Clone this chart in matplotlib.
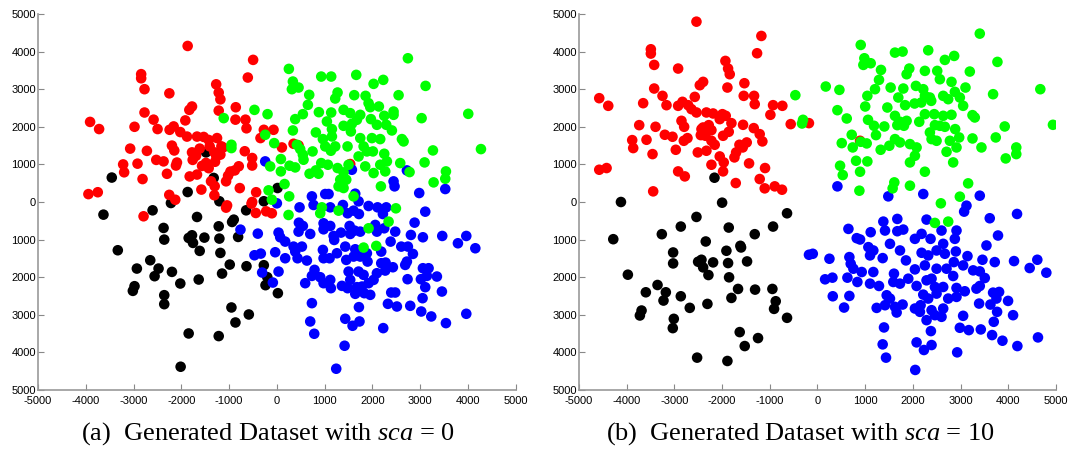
import numpy as np
import matplotlib
matplotlib.use("Agg")
import matplotlib.pyplot as plt
from matplotlib.ticker import FuncFormatter

# (x, y) points, one list per cluster
a_red = [(-1867, 4150), (-497, 3780), (-608, 3310), (-2840, 3400), (-2840, 3290), (-2770, 3000),
         (-2250, 2890), (-1270, 3130), (-1217, 2910), (-1182, 2730), (-1776, 2540), (-1832, 2450),
         (-860, 2520), (-1217, 2430), (-2770, 2380), (-3909, 2130), (-3720, 1940), (-2979, 2000),
         (-2580, 2190), (-2497, 1940), (-2245, 1920), (-2160, 2010), (-1916, 2170), (-2021, 1860),
         (-1881, 1740), (-1671, 1740), (-1531, 1730), (-1427, 1650), (-1252, 1700), (-1161, 1480),
         (-867, 2190), (-657, 2190), (-636, 1960), (-273, 1920), (-343, 1700), (-3070, 1420),
         (-2720, 1360), (-2196, 1500), (-2147, 1370), (-2524, 1120), (-2371, 1080), (-2091, 1050),
         (-2112, 970), (-2300, 750), (-3217, 1000), (-3196, 790), (-2916, 1020), (-2811, 610),
         (-1776, 1320), (-1615, 1420), (-1692, 1230), (-1762, 1120), (-1566, 960), (-1483, 1040),
         (-1427, 900), (-1406, 1480), (-1308, 1320), (-1266, 1210), (-1182, 1260), (-1294, 1070),
         (-1378, 550), (-1301, 420), (-1308, 180), (-1825, 680), (-1671, 730), (-1580, 330),
         (-1063, 550), (-1021, 700), (-972, 810), (-881, 840), (-797, 950), (-672, 1350),
         (-517, 1170), (-517, 970), (-776, 370), (-434, 260), (-517, 0), (-3944, 210),
         (-3748, 260), (-2252, 190), (-2126, 60), (-1042, -90), (-1126, 1450), (-2790, -380),
         (-1063, -150), (-531, -44), (-441, -292), (-224, -248), (-70, 1920), (105, 1451),
         (349, 1549), (454, 1504), (1535, 1009), (-105, -300)]

a_black = [(-3455, 650), (-1867, 265), (-1322, 640), (-1483, 1320), (-1203, 20), (-273, 20),
           (-3629, -336), (-2601, -221), (-2217, -27), (-2371, -690), (-2357, -1000), (-1671, -398),
           (-1776, -885), (-1846, -956), (-1755, -1088), (-1517, -947), (-1217, -646), (-1203, -973),
           (-937, -531), (-902, -469), (-643, -221), (-811, -929), (-1615, -1300), (-1182, -1354),
           (-986, -1664), (-636, -1708), (-1147, -1903), (-3329, -1283), (-2930, -1770), (-2650, -1549),
           (-2476, -1770), (-2559, -1973), (-2196, -1858), (-2021, -2168), (-1636, -2062), (-2979, -2239),
           (-3014, -2363), (-2357, -2478), (-2357, -2717), (-951, -2805), (-587, -2991), (-867, -3204),
           (-1846, -3496), (-1217, -3566), (-2014, -4381), (-273, -1681), (-238, -2212), (-200, -2000),
           (14, 372), (21, -2425)]

a_blue = [(-762, -735), (-399, -841), (-469, -1416), (-336, -1372), (-308, -1876), (-244, 1080),
          (1570, 858), (2721, 840), (2442, 549), (2463, 416), (2979, 239), (3524, 345), (1012, 212),
          (1082, 212), (733, 150), (1640, 221), (1710, 18), (0, -35), (475, -142), (768, -80),
          (1117, -142), (1382, -80), (1605, -230), (1480, -300), (1717, -320), (1919, -106),
          (2107, -142), (2289, -142), (2219, -320), (3105, -257), (461, -550), (544, -637),
          (454, -788), (698, -850), (977, -566), (1117, -637), (977, -726), (1187, -903),
          (1341, -814), (1522, -637), (1626, -761), (1745, -788), (1535, -850), (2093, -788),
          (2059, -610), (2247, -699), (2477, -788), (2882, -549), (2805, -876), (3056, -938),
          (3461, -903), (3789, -1097), (3964, -903), (4153, -1230), (35, -814), (70, -938),
          (174, -1053), (-35, -1336), (174, -1496), (384, -1319), (524, -1186), (349, -1186),
          (433, -1496), (628, -1557), (963, -1274), (977, -1496), (1103, -1496), (1257, -1363),
          (1200, -1009), (1431, -1186), (1640, -1257), (1452, -1540), (1605, -1451), (1745, -1451),
          (1884, -1363), (1898, -1584), (2184, -1319), (2380, -1053), (2603, -1186), (2742, -1186),
          (2847, -1380), (2184, -1628), (2275, -1611), (2428, -1735), (2268, -1823), (2093, -1894),
          (2024, -2071), (2686, -1673), (2721, -1584), (3056, -1761), (3175, -1761), (3014, -2053),
          (3140, -1965), (3349, -1982), (2735, -2053), (3105, -2265), (3454, -2381), (3049, -2558),
          (2393, -2407), (2477, -2407), (2324, -2708), (2512, -2779), (2791, -2761), (3021, -2912),
          (3231, -3044), (3538, -3221), (3964, -2973), (788, -1805), (733, -1965), (907, -2000),
          (977, -2159), (1117, -2071), (1130, -2292), (593, -2159), (1361, -2230), (1480, -2292),
          (1535, -2071), (1640, -2442), (1675, -2265), (1780, -2248), (1829, -2425), (1919, -2159),
          (1954, -2469), (1710, -1850), (1815, -1938), (1501, -1850), (733, -2690), (698, -3177),
          (782, -3504), (1431, -3106), (1584, -3292), (1729, -3177), (1717, -2796), (2226, -3354),
          (1417, -3823), (1242, -4434), (-84, -2142), (35, -1850)]

a_green = [(2742, 3823), (251, 3540), (928, 3336), (1137, 3336), (1661, 3381), (335, 3204),
           (314, 3000), (454, 3044), (2024, 3142), (2226, 3248), (3112, 3088), (1270, 2912),
           (1221, 2752), (677, 2850), (649, 2584), (1619, 2841), (1856, 2823), (2547, 2841),
           (1919, 2628), (1954, 2522), (2135, 2540), (-195, 2336), (544, 2336), (384, 2204),
           (879, 2389), (1137, 2380), (1396, 2451), (1535, 2363), (1745, 2318), (1968, 2204),
           (2247, 2292), (2442, 2407), (2442, 2318), (3029, 2230), (4005, 2345), (1047, 2142),
           (1152, 1938), (1396, 2026), (1570, 2080), (1675, 2186), (2093, 2053), (2289, 2053),
           (2407, 1903), (335, 1903), (-244, 1788), (816, 1850), (963, 1673), (1152, 1743),
           (1549, 1876), (1745, 1699), (1989, 1699), (2163, 1673), (2617, 1673), (2652, 1611),
           (-56, 1566), (419, 1522), (488, 1407), (544, 1257), (558, 1124), (747, 1345),
           (1012, 1478), (1130, 1363), (1221, 1478), (1479, 1478), (1710, 1212), (1815, 1478),
           (1884, 1345), (2010, 1345), (2247, 1283), (2303, 1080), (2163, 991), (3266, 1372),
           (4271, 1407), (3091, 1053), (2582, 1035), (-140, 947), (84, 1142), (265, 965),
           (384, 920), (84, 814), (684, 752), (816, 841), (928, 1035), (1068, 991), (1270, 903),
           (1396, 788), (872, 752), (1500, 991), (1849, 947), (2024, 770), (2268, 814), (2777, 796),
           (3538, 814), (3524, 619), (3280, 522), (1326, 593), (1452, 593), (1291, 416), (1396, 372),
           (2177, 416), (161, 478), (-174, 310), (258, 150), (-105, 62), (1605, 150),
           (-1112, 2230), (-469, 2450), (-951, 1522), (-951, 1434), (942, -142), (907, -300),
           (1291, -230), (2491, -168), (2338, -522), (1919, -699), (1815, -1212), (2080, -1168),
           (244, -345)]

b_red = [(-2537, 4796), (-1176, 4416), (-1266, 3956), (-3493, 4062), (-3493, 3947), (-3423, 3646),
         (-2921, 3549), (-1930, 3752), (-1874, 3549), (-1839, 3398), (-1888, 3044), (-1532, 3159),
         (-3423, 3018), (-4575, 2761), (-4386, 2558), (-3654, 2628), (-3249, 2823), (-3165, 2575),
         (-2921, 2558), (-2830, 2664), (-2711, 2575), (-2572, 2796), (-2467, 3106), (-2397, 3195),
         (-2537, 2381), (-2642, 2469), (-2328, 2381), (-2188, 2354), (-1993, 2336), (-1923, 2292),
         (-2049, 2204), (-1804, 2097), (-1546, 2823), (-1329, 2823), (-1315, 2602), (-931, 2575),
         (-736, 2558), (-987, 2319), (-561, 2071), (-3737, 2044), (-3395, 2000), (-2851, 2159),
         (-2795, 2000), (-3884, 1646), (-3863, 1434), (-3584, 1655), (-3200, 1788), (-3039, 1735),
         (-2970, 1389), (-2802, 1628), (-2725, 1699), (-2432, 1938), (-2397, 1982), (-2279, 2044),
         (-2223, 1911), (-2446, 1779), (-2349, 1761), (-2223, 1628), (-2154, 1522), (-1979, 1761),
         (-1860, 1867), (-1560, 2053), (-1336, 1965), (-1211, 1805), (-1155, 1611), (-1483, 1584),
         (-1636, 1522), (-1567, 1451), (-1706, 1319), (-1741, 1186), (-2049, 1212), (-1965, 1053),
         (-1979, 814), (-2509, 1319), (-2328, 1363), (-3458, 1274), (-4575, 858), (-4421, 903),
         (-2921, 814), (-2781, 681), (-2223, 991), (-1434, 1027), (-1099, 903), (-1713, 504),
         (-1211, 611), (-1106, 363), (-896, 416), (-743, 327), (-3444, 283), (-179, 2097),
         (893, 1628)]

b_black = [(-4120, 0), (-1999, -18), (-2159, 646), (-638, -300), (-2537, -397), (-2865, -653),
           (-1860, -680), (-931, -653), (-3263, -856), (-1315, -856), (-4281, -989), (-2342, -1050),
           (-1616, -1165), (-1602, -1209), (-1909, -1297), (-3026, -1342), (-3026, -1633),
           (-2502, -1589), (-2432, -1536), (-2397, -1739), (-2188, -1606), (-1874, -1624),
           (-1476, -1580), (-2286, -1942), (-1853, -2003), (-3975, -1933), (-3353, -2207),
           (-3598, -2401), (-3179, -2401), (-3228, -2621), (-2865, -2507), (-1665, -2312),
           (-1804, -2551), (-1308, -2330), (-945, -2312), (-875, -2639), (-910, -2842),
           (-2677, -2815), (-2307, -2710), (-3688, -2886), (-3723, -3018), (-3012, -3107),
           (-3033, -3354), (-638, -3080), (-1630, -3460), (-1246, -3619), (-1525, -3831),
           (-2523, -4139), (-1888, -4228)]

b_blue = [(-178, -1403), (418, 416), (1485, 150), (2218, 212), (3403, 168), (3124, -97),
          (3075, -256), (4184, -318), (3612, -432), (1381, -521), (1674, -450), (2287, -468),
          (649, -715), (1116, -803), (1416, -759), (1674, -777), (1799, -733), (2043, -980),
          (2183, -847), (2371, -980), (2601, -759), (2915, -759), (2880, -980), (3785, -891),
          (823, -962), (893, -997), (1520, -1112), (2636, -1112), (3543, -1156), (1067, -1200),
          (1171, -1289), (-98, -1377), (251, -1509), (669, -1465), (1102, -1421), (1367, -1492),
          (1730, -1289), (2183, -1350), (2322, -1421), (2497, -1289), (2671, -1377), (2901, -1315),
          (3145, -1439), (3459, -1536), (3717, -1598), (4121, -1571), (4609, -1536), (4449, -1756),
          (4798, -1880), (697, -1642), (753, -1774), (928, -1862), (1171, -1862), (1855, -1553),
          (2043, -1792), (2252, -1686), (2497, -1774), (2706, -1774), (2859, -1598), (3054, -1686),
          (3264, -1818), (3403, -1845), (3508, -2021), (2845, -1968), (160, -2056), (314, -2012),
          (628, -2012), (837, -2127), (1102, -2171), (1290, -2233), (1604, -1906), (1590, -2127),
          (1730, -2171), (1904, -2039), (2078, -2233), (2287, -2083), (2392, -2039), (2462, -2260),
          (2636, -2260), (2915, -2286), (3089, -2374), (3333, -2304), (3403, -2233), (3682, -2410),
          (3808, -2392), (321, -2507), (669, -2498), (1451, -2480), (1520, -2568), (2218, -2463),
          (2322, -2568), (2497, -2436), (2741, -2568), (2915, -2524), (3752, -2568), (3996, -2630),
          (558, -2807), (1241, -2816), (1416, -2745), (1625, -2789), (1785, -2727), (2043, -2833),
          (2162, -2745), (1660, -2939), (2148, -2921), (2392, -2877), (2636, -2833), (2462, -3010),
          (2287, -3142), (2601, -3054), (3389, -2701), (3626, -2727), (3766, -2921), (4101, -3010),
          (3054, -3027), (3696, -3186), (1395, -3336), (2378, -3433), (2985, -3345), (3173, -3407),
          (3424, -3389), (3661, -3539), (3878, -3689), (4191, -3831), (4623, -3601), (1367, -3786),
          (2078, -3733), (2232, -3936), (2392, -3804), (2929, -3998), (1437, -4139), (2050, -4466)]

b_green = [(-464, 2841), (-303, 2186), (-324, 2088), (3403, 4478), (907, 4177), (1625, 3973),
           (1785, 4000), (2322, 4035), (983, 3823), (962, 3646), (1116, 3690), (2671, 3779),
           (2866, 3885), (3773, 3726), (1332, 3513), (1925, 3549), (1869, 3398), (2252, 3487),
           (2511, 3487), (3194, 3469), (1290, 3248), (174, 3071), (460, 2982), (4672, 3000),
           (3682, 2867), (1206, 3000), (1046, 2823), (1534, 3044), (1800, 3018), (2064, 3088),
           (2218, 3000), (2566, 3265), (2810, 3195), (3103, 3044), (2636, 2823), (2880, 2929),
           (2985, 2779), (3054, 2558), (2357, 2779), (2252, 2823), (1695, 2779), (1837, 2575),
           (2036, 2619), (2176, 2646), (2385, 2690), (2741, 2735), (1001, 2540), (1465, 2513),
           (418, 2442), (614, 2221), (1060, 2186), (1625, 2292), (1730, 2133), (1869, 2159),
           (2134, 2133), (2252, 2336), (2448, 2336), (2636, 2292), (2810, 2319), (3250, 2310),
           (3298, 2248), (1185, 2027), (1402, 2009), (1674, 2044), (1813, 2027), (2462, 2044),
           (2566, 2027), (2671, 2000), (2887, 1938), (3926, 2009), (4937, 2053), (1227, 1779),
           (718, 1788), (509, 1566), (739, 1451), (907, 1602), (1032, 1558), (1325, 1389),
           (1507, 1496), (1625, 1673), (1730, 1584), (1939, 1540), (2078, 1451), (2357, 1850),
           (2392, 1673), (2497, 1628), (2776, 1628), (2971, 1717), (2915, 1451), (2706, 1336),
           (3250, 1690), (3438, 1451), (3738, 1717), (4168, 1451), (4168, 1274), (3947, 1159),
           (2043, 1230), (1939, 1053), (2845, 1053), (809, 1097), (1046, 1080), (474, 965),
           (530, 717), (893, 805), (2252, 805), (1611, 522), (1576, 363), (1939, 434), (879, 301),
           (3159, 496), (2985, 142), (2587, -35), (2462, -556), (2741, -521)]

panels = [
    ("(a)  Generated Dataset with $sca$ = 0", a_black, a_red, a_blue, a_green),
    ("(b)  Generated Dataset with $sca$ = 10", b_black, b_red, b_blue, b_green),
]
colors = ["#000000", "#ff0000", "#0000ff", "#00ff00"]
ticks = np.arange(-5000, 5001, 1000)

plt.rcParams["axes.unicode_minus"] = False
plt.rcParams["font.family"] = "Liberation Sans"
plt.rcParams["mathtext.fontset"] = "custom"
plt.rcParams["mathtext.it"] = "Liberation Serif:italic"
plt.rcParams["mathtext.rm"] = "Liberation Serif"

fig = plt.figure(figsize=(10.69, 4.5), dpi=100)
axes_pos = [[0.0355, 0.1333, 0.447, 0.8356], [0.5416, 0.1333, 0.4462, 0.8356]]
caption_x = [0.251, 0.749]

for pos, cx, (caption, *clusters) in zip(axes_pos, caption_x, panels):
    ax = fig.add_axes(pos)
    for pts, col in zip(clusters, colors):
        pts = np.array(pts)
        ax.scatter(pts[:, 0], pts[:, 1], s=58, c=col, edgecolors="none")
    ax.set_xlim(-5000, 5000)
    ax.set_ylim(-5000, 5000)
    ax.set_xticks(ticks)
    ax.set_yticks(ticks)
    ax.yaxis.set_major_formatter(FuncFormatter(lambda v, p: f"{abs(int(round(v)))}"))
    ax.tick_params(direction="in", length=4, width=0.8, color="#888888",
                   labelsize=8, pad=1.5)
    ax.tick_params(axis="x", pad=4)
    for side in ["top", "right"]:
        ax.spines[side].set_visible(False)
    for side in ["left", "bottom"]:
        ax.spines[side].set_color("#999999")
        ax.spines[side].set_linewidth(1.2)
    fig.text(cx, 0.036, caption, ha="center", va="center", fontsize=19,
             family="Liberation Serif")

plt.savefig("out.png", dpi=100)
plt.close()
